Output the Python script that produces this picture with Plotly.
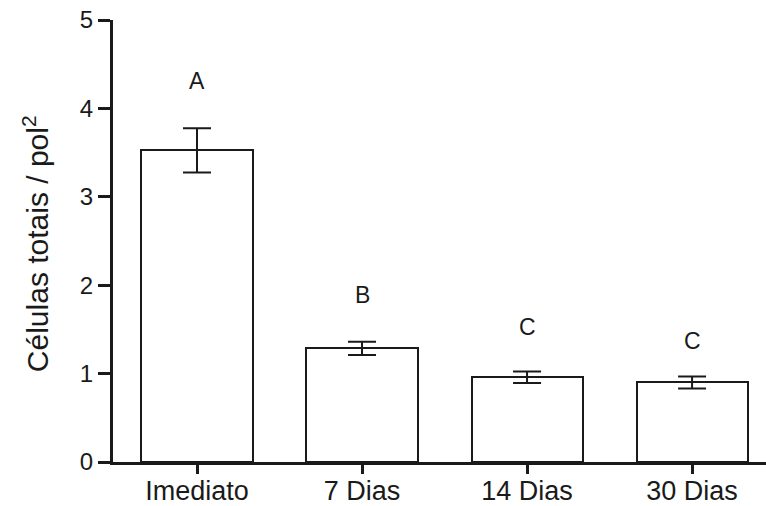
import plotly.graph_objects as go

categories = ["Imediato", "7 Dias", "14 Dias", "30 Dias"]
means = [3.525, 1.285, 0.96, 0.90]
errors = [0.25, 0.075, 0.065, 0.068]
letters = ["A", "B", "C", "C"]
letter_y = [4.31, 1.89, 1.53, 1.37]
y_ticks = [0, 1, 2, 3, 4, 5]

FONT = "Liberation Sans, Arial, sans-serif"

xpos = list(range(len(categories)))

fig = go.Figure()
fig.add_trace(go.Bar(
    x=xpos, y=means, width=0.673,
    marker=dict(color="white", line=dict(color="#1a1a1a", width=2)),
    error_y=dict(type="data", array=errors, visible=True,
                 color="#1a1a1a", thickness=2, width=14),
    showlegend=False,
))

for xi, (t, yv) in enumerate(zip(letters, letter_y)):
    fig.add_annotation(x=xi, y=yv, text=t, showarrow=False,
                       font=dict(family=FONT, size=23, color="#1a1a1a"),
                       xanchor="center", yanchor="middle")

fig.add_annotation(xref="paper", yref="paper", x=-0.118, y=0.495,
                   text="Células totais / pol<sup>2</sup>", showarrow=False,
                   textangle=-90, xanchor="center", yanchor="middle",
                   font=dict(family=FONT, size=30, color="#1a1a1a"))

fig.update_layout(
    width=766, height=506,
    margin=dict(l=113, r=0, t=20, b=44),
    paper_bgcolor="white", plot_bgcolor="white",
    font=dict(family=FONT, color="#1a1a1a"),
    bargap=0,
)
fig.update_xaxes(
    range=[-0.509, 3.448], automargin=False,
    tickmode="array", tickvals=xpos, ticktext=categories,
    showline=True, linecolor="#1a1a1a", linewidth=3,
    ticks="outside", ticklen=9, tickwidth=3, tickcolor="#1a1a1a",
    ticklabelstandoff=-6,
    tickfont=dict(family=FONT, size=27, color="#1a1a1a"),
    showgrid=False, zeroline=False,
)
fig.update_yaxes(
    range=[0, 5], automargin=False,
    tickmode="array", tickvals=y_ticks,
    showline=True, linecolor="#1a1a1a", linewidth=3,
    ticks="outside", ticklen=12, tickwidth=3, tickcolor="#1a1a1a",
    tickfont=dict(family=FONT, size=24, color="#1a1a1a"),
    showgrid=False, zeroline=False,
)

fig.write_html("out.html")
